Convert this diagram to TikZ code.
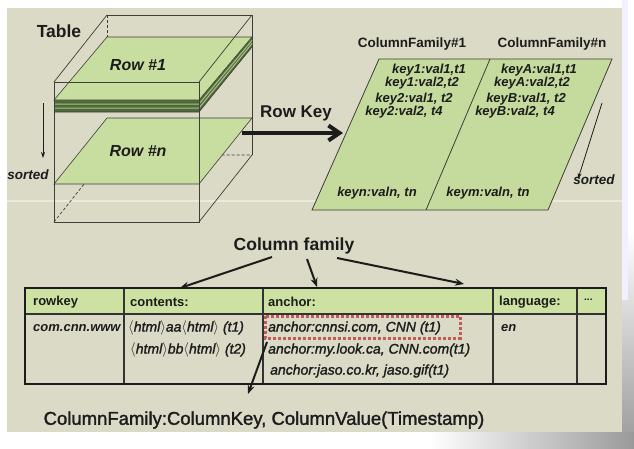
\documentclass[tikz,border=0pt]{standalone}
\usepackage{fontspec}
\setmainfont{Liberation Sans}
\newfontfamily\medfont[FakeBold=1.5]{Liberation Sans}
\usetikzlibrary{arrows.meta}
\newcommand{\fsz}[1]{\fontsize{#1pt}{#1pt}\selectfont}
\definecolor{beige}{RGB}{218,218,198}
\definecolor{plate}{RGB}{200,221,160}
\definecolor{cfgreen}{RGB}{197,218,157}
\definecolor{hdrgreen}{RGB}{205,226,162}
\definecolor{darkplate}{RGB}{78,106,58}
\definecolor{ink}{RGB}{28,28,28}
\definecolor{edge}{RGB}{62,62,56}
\definecolor{dotred}{RGB}{188,68,68}
\begin{document}
\begin{tikzpicture}[x=1pt,y=-1pt,
  cubeline/.style={draw=edge, line width=0.7pt},
  hidden/.style={draw=edge, line width=0.7pt, dash pattern=on 3pt off 2pt},
  platefill/.style={fill=plate, draw=edge, line width=0.6pt},
  lbl/.style={text=ink, inner sep=0pt},
  keytxt/.style={lbl, font=\fsz{13}\bfseries\itshape},
  hdr/.style={lbl, anchor=west, font=\fsz{13}\bfseries},
  cell/.style={lbl, anchor=west, font=\fsz{14}\medfont\itshape},
  bcell/.style={lbl, anchor=west, font=\fsz{13}\bfseries\itshape},
  bigarrow/.style={draw=ink, line width=2pt, -{Stealth[length=9pt,width=7pt]}},
  thinarrow/.style={draw=ink, line width=0.8pt, -{Stealth[length=6pt,width=4pt]}},
  tabline/.style={draw=ink!90, line width=1.4pt}]
\useasboundingbox (0,0) rectangle (634,448);
% background and shadow
\fill[white] (0,0) rectangle (634,448);
\shade[top color=white, bottom color=black!40] (622,230) rectangle (634,448);
\shade[left color=white, right color=black!40] (430,432) rectangle (634,448);
\fill[blue!6] (622,0) rectangle (628,300);
\fill[beige] (7,8) rectangle (622,432);
\draw[white, opacity=0.45, line width=2.5pt] (7,201) -- (622,201);

% ---------- cube: back / hidden edges ----------
\draw[cubeline] (107,15) -- (252,15) -- (252,155);
\draw[hidden] (107,15) -- (107,37);
\draw[hidden] (54,222) -- (107,155) -- (252,155);
% Row #n plate
\draw[platefill] (54,184) -- (199,184) -- (252,118) -- (107,118) -- cycle;
% Row #1 plate with stacked thickness
\fill[darkplate] (54,100) -- (199,100) -- (252,37) -- (252,47) -- (199,112) -- (54,112) -- cycle;
\draw[plate!75!darkplate, line width=1pt] (54,104) -- (199,104) -- (252,40.5);
\draw[plate!75!darkplate, line width=1pt] (54,108) -- (199,108) -- (252,43.5);
\draw[edge, line width=0.6pt] (54,112) -- (199,112) -- (252,47);
\draw[platefill] (54,100) -- (199,100) -- (252,37) -- (107,37) -- cycle;
% cube front edges
\draw[cubeline] (54,82) -- (107,15);
\draw[cubeline] (199,82) -- (252,15);
\draw[cubeline] (54,82) -- (199,82);
\draw[cubeline] (54,82) -- (54,222) -- (199,222) -- (199,82);
\draw[cubeline] (199,222) -- (252,155);

\node[lbl, font=\fsz{17.5}\bfseries] (table) at (59,31) {Table};
\node[lbl, font=\fsz{16}\bfseries\itshape] (row1) at (138,65) {Row \#1};
\node[lbl, font=\fsz{16}\bfseries\itshape] (rown) at (138,151) {Row \#n};
\coordinate (ls1) at (43,103);
\coordinate (ls2) at (43,158);
\draw[thinarrow] (ls1) -- (ls2);
\node[lbl, font=\fsz{13.5}\bfseries\itshape] (sortedL) at (28,175) {sorted};

% Row Key arrow
\node[lbl, font=\fsz{17}\bfseries] (rowkey) at (296,113) {Row Key};
\coordinate (rk1) at (242,133);
\coordinate (rk2) at (343,133);
\draw[draw=ink, line width=4pt, -{Straight Barb[length=11pt,width=15pt]}] (rk1) -- (rk2);

% ---------- column family parallelogram ----------
\draw[fill=cfgreen, draw=edge, line width=0.8pt] (379,59) -- (612,59) -- (548,210) -- (312,210) -- cycle;
\draw[edge, line width=0.8pt] (490,59) -- (426,210);
\node[lbl, font=\fsz{13.5}\bfseries] (cf1) at (412,44) {ColumnFamily\#1};
\node[lbl, font=\fsz{13.5}\bfseries] (cfn) at (552,44) {ColumnFamily\#n};
\node[keytxt] (k1) at (429,70) {key1:val1,t1};
\node[keytxt] (k2) at (422,83.5) {key1:val2,t2};
\node[keytxt] (k3) at (414,99) {key2:val1, t2};
\node[keytxt] (k4) at (404,112.5) {key2:val2, t4};
\node[keytxt] (k5) at (377,193) {keyn:valn, tn};
\node[keytxt] (kA1) at (539,70) {keyA:val1,t1};
\node[keytxt] (kA2) at (532,83.5) {keyA:val2,t2};
\node[keytxt] (kB1) at (526,99) {keyB:val1, t2};
\node[keytxt] (kB2) at (515,112.5) {keyB:val2, t4};
\node[keytxt] (km) at (488,193) {keym:valn, tn};
\coordinate (rs1) at (602,103);
\coordinate (rs2) at (578,179);
\draw[thinarrow] (rs1) -- (rs2);
\node[lbl, font=\fsz{13.5}\bfseries\itshape] (sortedR) at (594,180) {sorted};

% ---------- lower table ----------
\node[lbl, font=\fsz{17.5}\bfseries] (colfam) at (294,246) {Column family};
\coordinate (a1s) at (272,257); \coordinate (a1e) at (180,288);
\coordinate (a2s) at (307,259); \coordinate (a2e) at (317,287);
\coordinate (a3s) at (337,258); \coordinate (a3e) at (464,284);
\draw[bigarrow] (a1s) -- (a1e);
\draw[bigarrow] (a2s) -- (a2e);
\draw[bigarrow] (a3s) -- (a3e);

\fill[hdrgreen] (25,288) rectangle (606,314);
\draw[tabline] (25,314) -- (606,314);
\foreach \cx in {124,263,493,577} \draw[tabline] (\cx,288) -- (\cx,384);
\draw[draw=ink, line width=1.8pt] (25,288) rectangle (606,384);

\node[hdr] (h1) at (33,302) {rowkey};
\node[hdr] (h2) at (130,302) {contents:};
\node[hdr] (h3) at (268,302) {anchor:};
\node[hdr] (h4) at (499,302) {language:};
\node[hdr, font=\fsz{10}\bfseries] (h5) at (584,300) {...};

\node[bcell] (c1) at (33,328) {com.cnn.www};
\node[cell] (c2) at (128,328) {$\langle$html$\rangle$aa$\langle$html$\rangle$ (t1)};
\node[cell] (c3) at (130,350) {$\langle$html$\rangle$bb$\langle$html$\rangle$ (t2)};
\node[cell] (c4) at (268,328) {anchor:cnnsi.com, CNN (t1)};
\node[cell] (c5) at (268,350) {anchor:my.look.ca, CNN.com(t1)};
\node[cell] (c6) at (270,371) {anchor:jaso.co.kr, jaso.gif(t1)};
\node[bcell] (c7) at (501,328) {en};

\draw[dotred, opacity=0.85, line width=3pt, dash pattern=on 3pt off 2pt] (265,316) rectangle (460,338);
\coordinate (a4s) at (267,342); \coordinate (a4e) at (248,394);
\draw[bigarrow] (a4s) -- (a4e);

\node[lbl, font=\fsz{18.5}\medfont] (formula) at (264,420) {ColumnFamily:ColumnKey, ColumnValue(Timestamp)};
\end{tikzpicture}
\end{document}
